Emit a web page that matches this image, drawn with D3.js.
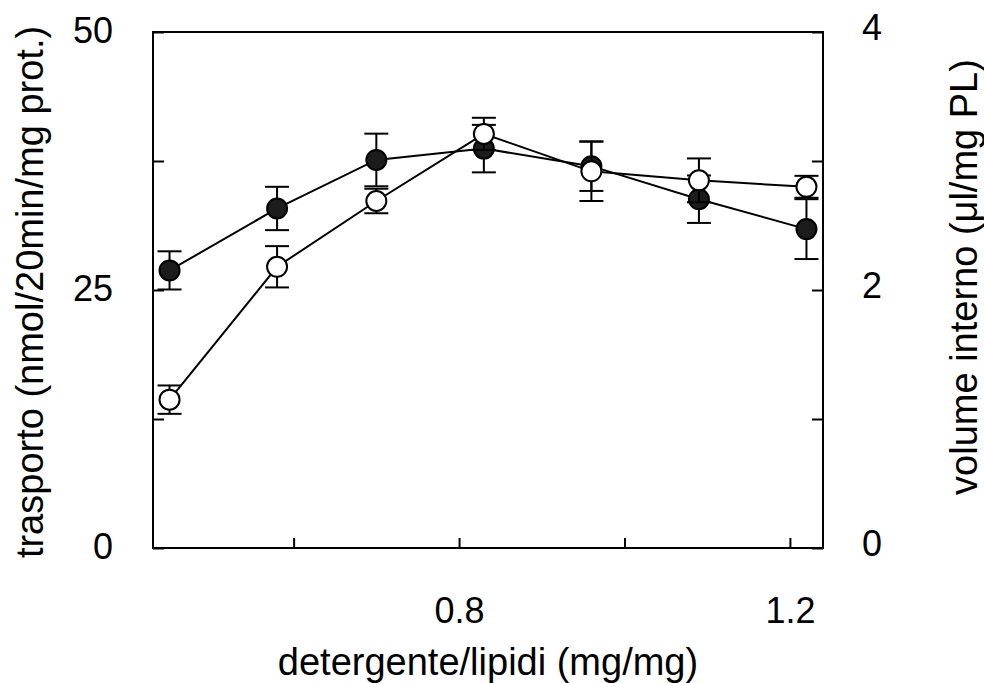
<!DOCTYPE html>
<html>
<head>
<meta charset="utf-8">
<script src="https://cdn.jsdelivr.net/npm/d3@7"></script>
<style>
  html, body { margin: 0; padding: 0; background: #fff; }
  svg { display: block; }
  text { font-family: "Liberation Sans", Arial, sans-serif; fill: #000; }
</style>
</head>
<body>
<svg id="chart" width="984" height="683"></svg>
<script>
// detergent/lipid ratio (mg/mg)
const ratio = [0.45, 0.58, 0.70, 0.83, 0.96, 1.09, 1.22];
// transport activity, left axis (nmol/20min/mg prot.) – filled circles
const transport = [26.9, 32.9, 37.6, 38.7, 37.0, 33.8, 30.9];
const transportErr = [1.85, 2.1, 2.55, 2.3, 2.4, 2.3, 2.9];
// internal volume, right axis (µl/mg PL) – open circles
const volume = [1.15, 2.18, 2.69, 3.21, 2.92, 2.85, 2.80];
const volumeErr = [0.11, 0.16, 0.095, 0.125, 0.23, 0.17, 0.085];

// tick values and which of them carry labels
const xTicks = [0.6, 0.8, 1.0, 1.2];
const xLabels = [0.8, 1.2];
const yLeftTicks = [0, 12.5, 25, 37.5, 50];
const yLeftLabels = [0, 25, 50];
const yRightTicks = [0, 1, 2, 3, 4];
const yRightLabels = [0, 2, 4];

const plotLeft = 153, plotRight = 823, plotTop = 32, plotBottom = 548;
const tickFont = 36, titleFont = 38;

const svg = d3.select("#chart");

const x = d3.scaleLinear().domain([0.43, 1.24]).range([plotLeft, plotRight]);
const yL = d3.scaleLinear().domain([0, 50]).range([plotBottom, plotTop]);
const yR = d3.scaleLinear().domain([0, 4]).range([plotBottom, plotTop]);

// axes with inward ticks
const gx = svg.append("g")
  .attr("transform", `translate(0,${plotBottom})`)
  .call(d3.axisBottom(x).tickValues(xTicks).tickSizeInner(-10).tickSizeOuter(0)
    .tickFormat(d => xLabels.some(v => Math.abs(v - d) < 1e-9) ? d3.format(".1f")(d) : ""));

const gl = svg.append("g")
  .attr("transform", `translate(${plotLeft},0)`)
  .call(d3.axisLeft(yL).tickValues(yLeftTicks).tickSizeInner(-11).tickSizeOuter(0).tickPadding(40)
    .tickFormat(d => yLeftLabels.includes(d) ? String(d) : ""));

const gr = svg.append("g")
  .attr("transform", `translate(${plotRight},0)`)
  .call(d3.axisRight(yR).tickValues(yRightTicks).tickSizeInner(-11).tickSizeOuter(0).tickPadding(39)
    .tickFormat(d => yRightLabels.includes(d) ? String(d) : ""));

[gx, gl, gr].forEach(g => {
  g.select(".domain").remove();
  g.selectAll(".tick line").attr("stroke", "#000").attr("stroke-width", 2);
  g.selectAll(".tick text")
    .attr("font-size", tickFont)
    .attr("font-family", "Liberation Sans, Arial, sans-serif")
    .attr("fill", "#000");
});
gx.selectAll(".tick text").attr("y", 75).attr("dy", 0);
gl.selectAll(".tick text").attr("dy", 10);
gr.selectAll(".tick text").attr("dy", 7);

// plot frame
svg.append("rect")
  .attr("x", plotLeft).attr("y", plotTop)
  .attr("width", plotRight - plotLeft).attr("height", plotBottom - plotTop)
  .attr("fill", "none").attr("stroke", "#000").attr("stroke-width", 2);

function drawSeries(values, errs, yScale, fill) {
  const g = svg.append("g");
  const pts = values.map((v, i) => ({ x: ratio[i], v, e: errs[i] }));
  g.append("path")
    .datum(pts)
    .attr("fill", "none").attr("stroke", "#000").attr("stroke-width", 2)
    .attr("d", d3.line().x(d => x(d.x)).y(d => yScale(d.v)));
  const eb = g.selectAll(".err").data(pts).join("g")
    .attr("class", "err")
    .attr("stroke", "#000").attr("stroke-width", 2);
  eb.append("line")
    .attr("x1", d => x(d.x)).attr("x2", d => x(d.x))
    .attr("y1", d => yScale(d.v - d.e)).attr("y2", d => yScale(d.v + d.e));
  eb.append("line")
    .attr("x1", d => x(d.x) - 12).attr("x2", d => x(d.x) + 12)
    .attr("y1", d => yScale(d.v + d.e)).attr("y2", d => yScale(d.v + d.e));
  eb.append("line")
    .attr("x1", d => x(d.x) - 12).attr("x2", d => x(d.x) + 12)
    .attr("y1", d => yScale(d.v - d.e)).attr("y2", d => yScale(d.v - d.e));
  g.selectAll("circle").data(pts).join("circle")
    .attr("cx", d => x(d.x)).attr("cy", d => yScale(d.v))
    .attr("r", 10)
    .attr("fill", fill).attr("stroke", "#000").attr("stroke-width", 2);
}

drawSeries(transport, transportErr, yL, "#1c1c1c");
drawSeries(volume, volumeErr, yR, "#fff");

// axis titles
svg.append("text")
  .attr("x", (plotLeft + plotRight) / 2).attr("y", 674.5)
  .attr("text-anchor", "middle").attr("font-size", titleFont)
  .text("detergente/lipidi (mg/mg)");

svg.append("text")
  .attr("transform", "translate(43,292) rotate(-90)")
  .attr("text-anchor", "middle").attr("font-size", titleFont)
  .text("trasporto  (nmol/20min/mg prot.)");

svg.append("text")
  .attr("transform", "translate(977,277) rotate(-90)")
  .attr("text-anchor", "middle").attr("font-size", titleFont)
  .text("volume interno (μl/mg PL)");
</script>
</body>
</html>
